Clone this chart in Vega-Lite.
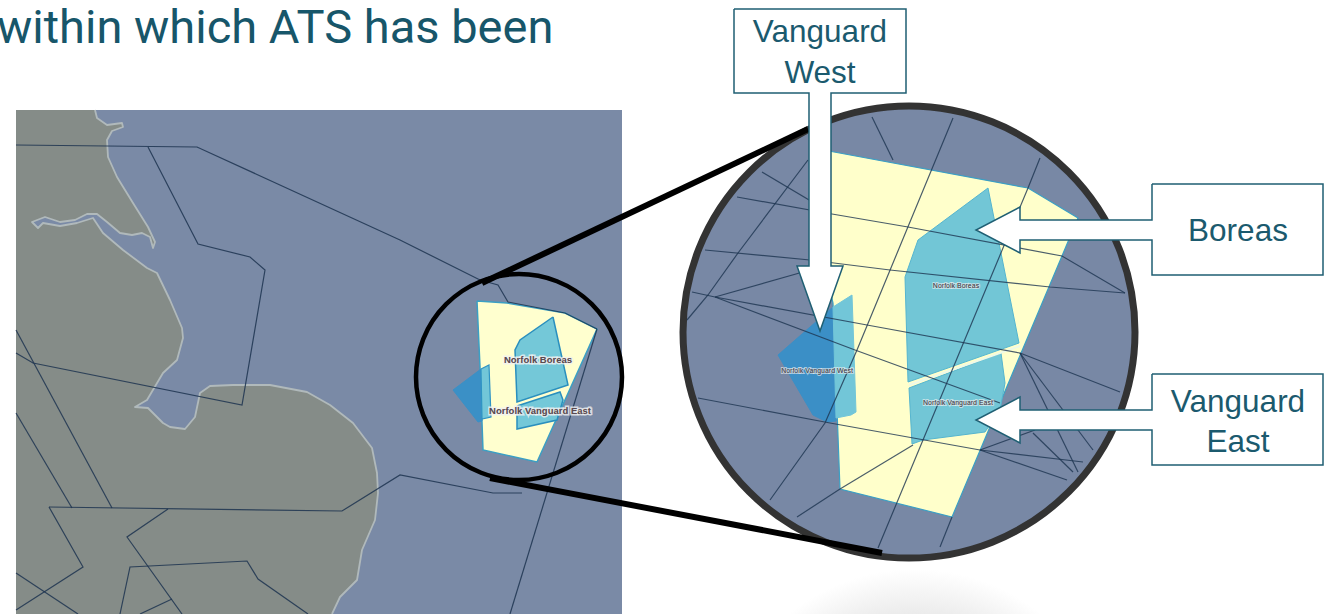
{"$schema":"https://vega.github.io/schema/vega-lite/v6.json","width":1330,"height":614,"padding":0,"autosize":{"type":"none"},"background":"#ffffff","config":{"view":{"stroke":null}},
"datasets":{
"sea":[{"x":16,"x2":622,"y":110,"y2":614}],
"shadow":[{"x":715,"x2":1115,"y":524,"y2":614}],
"land":[{"x":95,"y":110},{"x":97,"y":118},{"x":107,"y":125},{"x":122,"y":123},{"x":123,"y":127},{"x":112,"y":131},{"x":107,"y":140},{"x":108,"y":157},{"x":117,"y":177},{"x":133,"y":203},{"x":148,"y":227},{"x":155,"y":242},{"x":153,"y":248},{"x":150,"y":237},{"x":142,"y":233},{"x":132,"y":235},{"x":120,"y":233},{"x":107,"y":222},{"x":97,"y":214},{"x":87,"y":214},{"x":75,"y":220},{"x":60,"y":222},{"x":45,"y":217},{"x":32,"y":222},{"x":38,"y":228},{"x":43,"y":223},{"x":60,"y":226},{"x":77,"y":223},{"x":93,"y":218},{"x":103,"y":233},{"x":123,"y":250},{"x":147,"y":268},{"x":157,"y":273},{"x":170,"y":300},{"x":182,"y":328},{"x":183,"y":338},{"x":177,"y":360},{"x":163,"y":373},{"x":147,"y":400},{"x":135,"y":407},{"x":148,"y":408},{"x":163,"y":423},{"x":170,"y":427},{"x":185,"y":429},{"x":195,"y":417},{"x":200,"y":393},{"x":210,"y":386},{"x":233,"y":385},{"x":270,"y":385},{"x":307,"y":392},{"x":330,"y":405},{"x":353,"y":423},{"x":372,"y":448},{"x":377,"y":473},{"x":378,"y":493},{"x":375,"y":520},{"x":362,"y":550},{"x":357,"y":580},{"x":340,"y":597},{"x":332,"y":614},{"x":16,"y":614},{"x":16,"y":110},{"x":95,"y":110}],
"coast":[{"x":95,"y":110},{"x":97,"y":118},{"x":107,"y":125},{"x":122,"y":123},{"x":123,"y":127},{"x":112,"y":131},{"x":107,"y":140},{"x":108,"y":157},{"x":117,"y":177},{"x":133,"y":203},{"x":148,"y":227},{"x":155,"y":242},{"x":153,"y":248},{"x":150,"y":237},{"x":142,"y":233},{"x":132,"y":235},{"x":120,"y":233},{"x":107,"y":222},{"x":97,"y":214},{"x":87,"y":214},{"x":75,"y":220},{"x":60,"y":222},{"x":45,"y":217},{"x":32,"y":222},{"x":38,"y":228},{"x":43,"y":223},{"x":60,"y":226},{"x":77,"y":223},{"x":93,"y":218},{"x":103,"y":233},{"x":123,"y":250},{"x":147,"y":268},{"x":157,"y":273},{"x":170,"y":300},{"x":182,"y":328},{"x":183,"y":338},{"x":177,"y":360},{"x":163,"y":373},{"x":147,"y":400},{"x":135,"y":407},{"x":148,"y":408},{"x":163,"y":423},{"x":170,"y":427},{"x":185,"y":429},{"x":195,"y":417},{"x":200,"y":393},{"x":210,"y":386},{"x":233,"y":385},{"x":270,"y":385},{"x":307,"y":392},{"x":330,"y":405},{"x":353,"y":423},{"x":372,"y":448},{"x":377,"y":473},{"x":378,"y":493},{"x":375,"y":520},{"x":362,"y":550},{"x":357,"y":580},{"x":340,"y":597},{"x":332,"y":614}],
"routesSmall":[
{"id":"a","x":16,"y":145},{"id":"a","x":197,"y":147},{"id":"a","x":400,"y":240},{"id":"a","x":480,"y":280},{"id":"a","x":498,"y":285},{"id":"a","x":508,"y":302},{"id":"a","x":565,"y":313},{"id":"a","x":597,"y":329},
{"id":"b","x":148,"y":147},{"id":"b","x":198,"y":244},{"id":"b","x":250,"y":257},{"id":"b","x":265,"y":270},{"id":"b","x":242,"y":405},{"id":"b","x":33,"y":363},{"id":"b","x":16,"y":353},
{"id":"c","x":16,"y":330},{"id":"c","x":112,"y":508},
{"id":"d","x":16,"y":413},{"id":"d","x":72,"y":508},
{"id":"e","x":49,"y":507},{"id":"e","x":342,"y":511},{"id":"e","x":400,"y":475},{"id":"e","x":493,"y":493},{"id":"e","x":522,"y":493},
{"id":"f","x":49,"y":507},{"id":"f","x":83,"y":567},{"id":"f","x":16,"y":610},
{"id":"g","x":168,"y":509},{"id":"g","x":127,"y":537},{"id":"g","x":182,"y":614},
{"id":"h","x":120,"y":614},{"id":"h","x":130,"y":567},{"id":"h","x":247,"y":561},{"id":"h","x":258,"y":579},{"id":"h","x":308,"y":614},
{"id":"i","x":16,"y":573},{"id":"i","x":78,"y":614},
{"id":"j","x":140,"y":614},{"id":"j","x":172,"y":599},
{"id":"k","x":597,"y":329},{"id":"k","x":510,"y":614}],
"block":[{"x":477,"y":301},{"x":507,"y":303},{"x":565,"y":313},{"x":597,"y":329},{"x":537,"y":462},{"x":483,"y":450},{"x":480,"y":367},{"x":477,"y":301}],
"westDarkSmall":[{"x":453,"y":390},{"x":481,"y":369},{"x":482,"y":421},{"x":478,"y":422},{"x":453,"y":390}],
"westLightSmall":[{"x":481,"y":369},{"x":489,"y":365},{"x":491,"y":417},{"x":482,"y":419},{"x":481,"y":369}],
"turbineSmall":[{"id":"boreas","x":553,"y":317},{"id":"boreas","x":520,"y":340},{"id":"boreas","x":515,"y":350},{"id":"boreas","x":517,"y":402},{"id":"boreas","x":568,"y":385},{"id":"boreas","x":553,"y":317},
{"id":"east","x":517,"y":406},{"id":"east","x":560,"y":392},{"id":"east","x":563,"y":400},{"id":"east","x":557,"y":420},{"id":"east","x":517,"y":429},{"id":"east","x":517,"y":406}],
"smallCircle":[{"x":519,"y":377}],
"bigCircle":[{"x":909,"y":332}],
"connectors":[{"id":"top","x":482,"y":283},{"id":"top","x":808,"y":129},{"id":"bottom","x":490,"y":478},{"id":"bottom","x":882,"y":553}],
"blockBig":[{"x":818,"y":149},{"x":1028,"y":188},{"x":1078,"y":218},{"x":952,"y":517},{"x":840,"y":489},{"x":833,"y":303},{"x":823,"y":257},{"x":818,"y":149}],
"westDarkBig":[{"x":778,"y":355},{"x":833,"y":307},{"x":836,"y":421},{"x":827,"y":422},{"x":813,"y":415},{"x":778,"y":355}],
"westLightBig":[{"x":833,"y":307},{"x":852,"y":295},{"x":853,"y":323},{"x":856,"y":412},{"x":851,"y":415},{"x":836,"y":418},{"x":833,"y":307}],
"turbineBig":[{"id":"boreas","x":988,"y":188},{"id":"boreas","x":1019,"y":343},{"id":"boreas","x":908,"y":382},{"id":"boreas","x":905,"y":277},{"id":"boreas","x":918,"y":240},{"id":"boreas","x":988,"y":188},
{"id":"east","x":909,"y":388},{"id":"east","x":1001,"y":353},{"id":"east","x":1005,"y":383},{"id":"east","x":1000,"y":410},{"id":"east","x":985,"y":432},{"id":"east","x":923,"y":440},{"id":"east","x":912,"y":444},{"id":"east","x":909,"y":388}],
"seam":[{"x":909,"y":385},{"x":1020,"y":346}],
"routesBig":[
{"id":"a","x":872,"y":117},{"id":"a","x":893,"y":160},
{"id":"b","x":953,"y":118},{"id":"b","x":857,"y":350},{"id":"b","x":825,"y":423},{"id":"b","x":770,"y":500},
{"id":"c","x":1040,"y":158},{"id":"c","x":1028,"y":188},{"id":"c","x":923,"y":440},{"id":"c","x":878,"y":548},
{"id":"d","x":737,"y":197},{"id":"d","x":832,"y":214},{"id":"d","x":908,"y":227},{"id":"d","x":1062,"y":256},{"id":"d","x":1125,"y":293},
{"id":"e","x":762,"y":172},{"id":"e","x":831,"y":213},
{"id":"f","x":808,"y":160},{"id":"f","x":738,"y":253},{"id":"f","x":708,"y":295},{"id":"f","x":687,"y":320},
{"id":"g","x":705,"y":250},{"id":"g","x":810,"y":260},{"id":"g","x":890,"y":270},{"id":"g","x":1050,"y":287},{"id":"g","x":1125,"y":293},
{"id":"h","x":692,"y":292},{"id":"h","x":715,"y":297},{"id":"h","x":867,"y":325},{"id":"h","x":1020,"y":353},{"id":"h","x":1120,"y":392},
{"id":"i","x":715,"y":297},{"id":"i","x":803,"y":272},
{"id":"j","x":715,"y":297},{"id":"j","x":855,"y":350},{"id":"j","x":1000,"y":403},
{"id":"k","x":698,"y":398},{"id":"k","x":830,"y":423},{"id":"k","x":980,"y":450},{"id":"k","x":1083,"y":462},
{"id":"l","x":980,"y":450},{"id":"l","x":1067,"y":480},
{"id":"m","x":980,"y":450},{"id":"m","x":1035,"y":430},
{"id":"n","x":1020,"y":353},{"id":"n","x":1078,"y":472},
{"id":"o","x":1020,"y":353},{"id":"o","x":1093,"y":450},
{"id":"p","x":1033,"y":433},{"id":"p","x":1073,"y":472},
{"id":"q","x":840,"y":489},{"id":"q","x":913,"y":445},
{"id":"r","x":840,"y":489},{"id":"r","x":797,"y":517},
{"id":"s","x":952,"y":517},{"id":"s","x":940,"y":547}],
"callouts":[
{"id":"west","x":734,"y":9},{"id":"west","x":906,"y":9},{"id":"west","x":906,"y":93},{"id":"west","x":831,"y":93},{"id":"west","x":831,"y":266},{"id":"west","x":843,"y":266},{"id":"west","x":820,"y":331},{"id":"west","x":797,"y":266},{"id":"west","x":809,"y":266},{"id":"west","x":809,"y":93},{"id":"west","x":734,"y":93},{"id":"west","x":734,"y":9},
{"id":"boreas","x":1152,"y":184},{"id":"boreas","x":1323,"y":184},{"id":"boreas","x":1323,"y":275},{"id":"boreas","x":1152,"y":275},{"id":"boreas","x":1152,"y":240},{"id":"boreas","x":1020,"y":240},{"id":"boreas","x":1020,"y":253},{"id":"boreas","x":976,"y":230},{"id":"boreas","x":1020,"y":207},{"id":"boreas","x":1020,"y":220},{"id":"boreas","x":1152,"y":220},{"id":"boreas","x":1152,"y":184},
{"id":"east","x":1152,"y":374},{"id":"east","x":1323,"y":374},{"id":"east","x":1323,"y":465},{"id":"east","x":1152,"y":465},{"id":"east","x":1152,"y":430},{"id":"east","x":1020,"y":430},{"id":"east","x":1020,"y":443},{"id":"east","x":976,"y":420},{"id":"east","x":1020,"y":397},{"id":"east","x":1020,"y":410},{"id":"east","x":1152,"y":410},{"id":"east","x":1152,"y":374}],
"title":[{"label":"within which ATS has been","x":-3,"y":43}],
"calloutText":[{"label":"Vanguard","x":820,"y":42},{"label":"West","x":820,"y":83},{"label":"Boreas","x":1238,"y":241},{"label":"Vanguard","x":1238,"y":412},{"label":"East","x":1238,"y":452}],
"labelsSmall":[{"label":"Norfolk Boreas","x":538,"y":360},{"label":"Norfolk Vanguard East","x":540,"y":411}],
"labelsBig":[{"label":"Norfolk Boreas","x":956,"y":286},{"label":"Norfolk Vanguard East","x":958,"y":403},{"label":"Norfolk Vanguard West","x":817,"y":371}]
},
"encoding":{"x":{"field":"x","type":"quantitative","scale":{"domain":[0,1330],"nice":false,"zero":false},"axis":null},"y":{"field":"y","type":"quantitative","scale":{"domain":[614,0],"nice":false,"zero":false},"axis":null}},
"layer":[
{"data":{"name":"shadow"},"mark":{"type":"rect","fill":{"gradient":"radial","x1":0.5,"y1":1,"r1":0,"x2":0.5,"y2":1,"r2":0.5,"stops":[{"offset":0,"color":"#bdbdbd"},{"offset":0.6,"color":"#dcdcdc"},{"offset":1,"color":"#ffffff"}]}},"encoding":{"x2":{"field":"x2"},"y2":{"field":"y2"}}},
{"data":{"name":"sea"},"mark":{"type":"rect","fill":"#7a8aa6"},"encoding":{"x2":{"field":"x2"},"y2":{"field":"y2"}}},
{"data":{"name":"land"},"mark":{"type":"line","fill":"#858c88","stroke":null,"strokeWidth":0},"encoding":{"order":{"value":null}}},
{"data":{"name":"coast"},"mark":{"type":"line","stroke":"#b0b9bb","strokeWidth":1.8,"strokeJoin":"round"},"encoding":{"order":{"value":null}}},
{"data":{"name":"block"},"mark":{"type":"line","fill":"#ffffcf","stroke":"#3b9fc4","strokeWidth":1.5},"encoding":{"order":{"value":null}}},
{"data":{"name":"routesSmall"},"mark":{"type":"line","stroke":"#1d3450","strokeWidth":1.2,"opacity":0.85},"encoding":{"detail":{"field":"id"},"order":{"value":null}}},
{"data":{"name":"westDarkSmall"},"mark":{"type":"line","fill":"#3b90c6","stroke":"#3b90c6","strokeWidth":1},"encoding":{"order":{"value":null}}},
{"data":{"name":"westLightSmall"},"mark":{"type":"line","fill":"#72c6d8","stroke":"#2f93c4","strokeWidth":1.2},"encoding":{"order":{"value":null}}},
{"data":{"name":"turbineSmall"},"mark":{"type":"line","fill":"#74c8d8","stroke":"#2a8fbe","strokeWidth":1.5},"encoding":{"detail":{"field":"id"},"order":{"value":null}}},
{"data":{"name":"labelsSmall"},"mark":{"type":"text","font":"Liberation Sans","fontSize":9.5,"fontWeight":"bold","align":"center","baseline":"middle","stroke":"#f2f2f2","strokeWidth":3,"strokeOpacity":0.8},"encoding":{"text":{"field":"label"}}},
{"data":{"name":"labelsSmall"},"mark":{"type":"text","font":"Liberation Sans","fontSize":9.5,"fontWeight":"bold","align":"center","baseline":"middle","fill":"#5a4a50"},"encoding":{"text":{"field":"label"}}},
{"data":{"name":"smallCircle"},"mark":{"type":"point","shape":"circle","filled":false,"size":42436,"stroke":"#000000","strokeWidth":4.5,"opacity":1}},
{"data":{"name":"bigCircle"},"mark":{"type":"point","shape":"circle","filled":true,"size":204304,"fill":"#7888a5","stroke":"#333333","strokeWidth":7,"opacity":1}},
{"data":{"name":"connectors"},"mark":{"type":"line","stroke":"#000000","strokeWidth":6},"encoding":{"detail":{"field":"id"},"order":{"value":null}}},
{"data":{"name":"blockBig"},"mark":{"type":"line","fill":"#ffffcb","stroke":"#3b9fc4","strokeWidth":1.2},"encoding":{"order":{"value":null}}},
{"data":{"name":"westDarkBig"},"mark":{"type":"line","fill":"#3b8fc6","stroke":"#3b8fc6","strokeWidth":1},"encoding":{"order":{"value":null}}},
{"data":{"name":"westLightBig"},"mark":{"type":"line","fill":"#72c6d8","stroke":"#72c6d8","strokeWidth":1},"encoding":{"order":{"value":null}}},
{"data":{"name":"turbineBig"},"mark":{"type":"line","fill":"#72c6d6","stroke":"#55b5cf","strokeWidth":1},"encoding":{"detail":{"field":"id"},"order":{"value":null}}},
{"data":{"name":"seam"},"mark":{"type":"line","stroke":"#eef9e8","strokeWidth":2},"encoding":{"order":{"value":null}}},
{"data":{"name":"routesBig"},"mark":{"type":"line","stroke":"#1d3450","strokeWidth":1.2,"opacity":0.8},"encoding":{"detail":{"field":"id"},"order":{"value":null}}},
{"data":{"name":"labelsBig"},"mark":{"type":"text","font":"Liberation Sans","fontSize":7,"align":"center","baseline":"middle","stroke":"#f2f2f2","strokeWidth":2,"strokeOpacity":0.6},"encoding":{"text":{"field":"label"}}},
{"data":{"name":"labelsBig"},"mark":{"type":"text","font":"Liberation Sans","fontSize":7,"align":"center","baseline":"middle","fill":"#4a4a55"},"encoding":{"text":{"field":"label"}}},
{"data":{"name":"callouts"},"mark":{"type":"line","fill":"#ffffff","stroke":"#1f5f73","strokeWidth":1.5,"strokeJoin":"miter"},"encoding":{"detail":{"field":"id"},"order":{"value":null}}},
{"data":{"name":"calloutText"},"mark":{"type":"text","font":"Liberation Sans","fontSize":31.5,"align":"center","baseline":"alphabetic","fill":"#1b5a6e"},"encoding":{"text":{"field":"label"}}},
{"data":{"name":"title"},"mark":{"type":"text","font":"Roboto","fontSize":47,"align":"left","baseline":"alphabetic","fill":"#17566a"},"encoding":{"text":{"field":"label"}}}
]}
